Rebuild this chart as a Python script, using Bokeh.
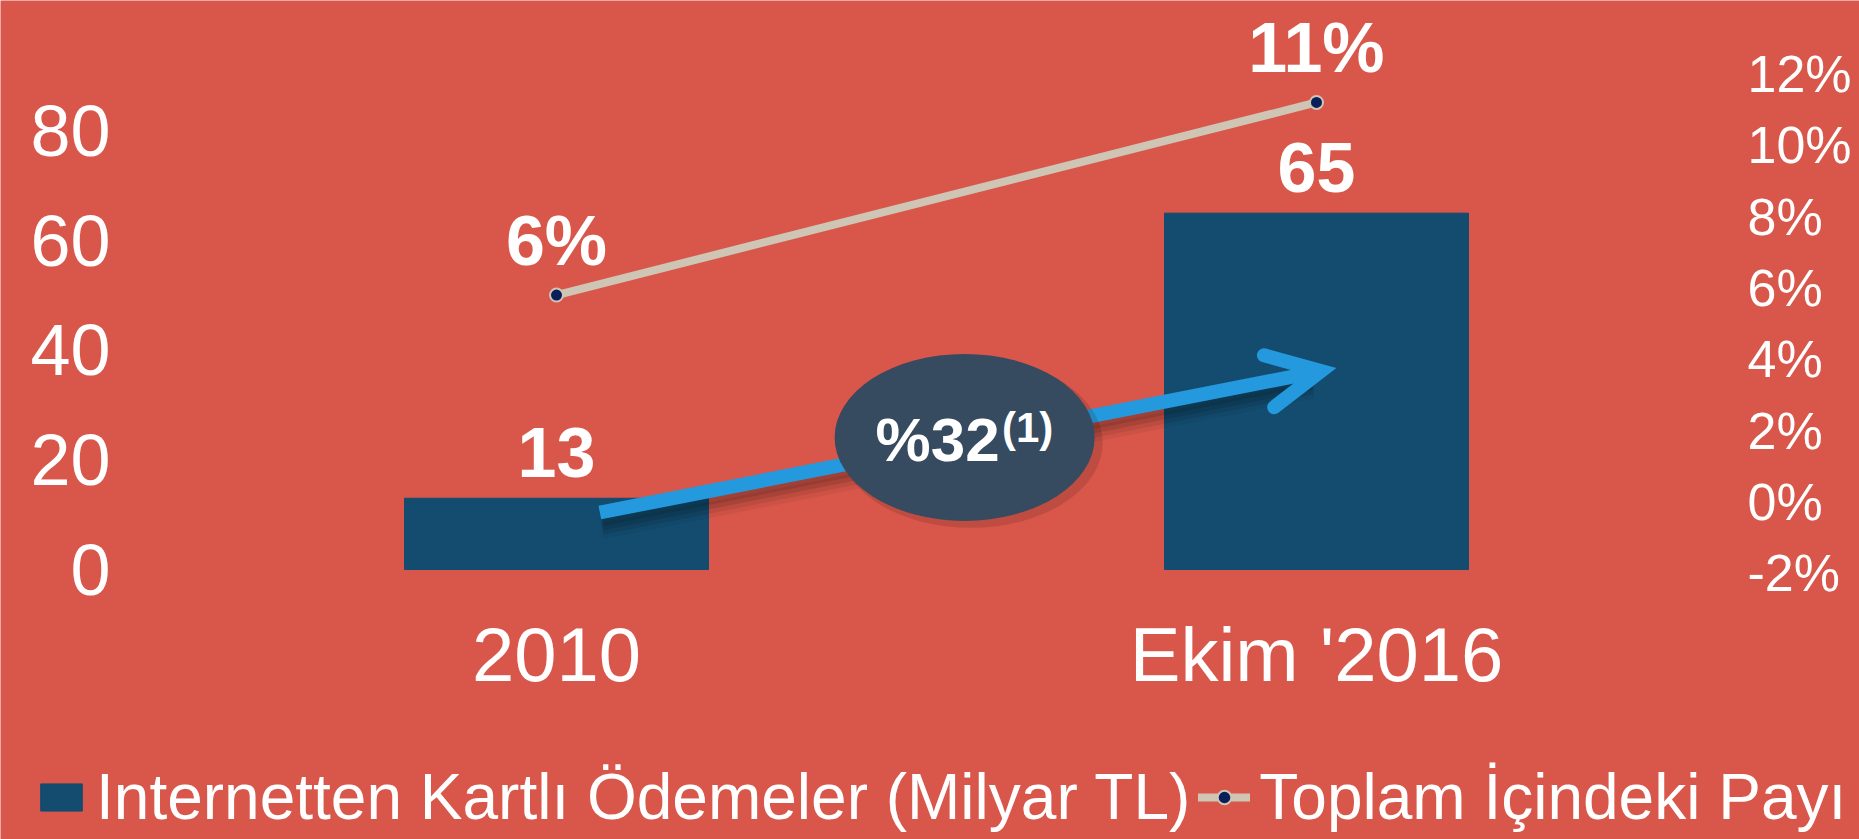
from bokeh.plotting import figure
from bokeh.models import (Range1d, LinearAxis, FixedTicker, Legend, LegendItem,
                          Arrow, OpenHead)
from bokeh.core.properties import value
from bokeh.embed import file_html
from bokeh.resources import INLINE

# ---- data ----
categories = ["2010", "Ekim '2016"]
payments = [13, 65]                 # Internetten Kartlı Ödemeler (Milyar TL)
payment_labels = ["13", "65"]
share = [5.8, 11.2]                 # Toplam İçindeki Payı (%)
share_labels = ["6%", "11%"]
left_ticks = [0, 20, 40, 60, 80]
right_ticks = [-2, 0, 2, 4, 6, 8, 10, 12]
series_names = ["Internetten Kartlı Ödemeler (Milyar TL)", "Toplam İçindeki Payı"]
cagr_text = "%32"
cagr_note = "(1)"

BG = "#D9574A"
BAR = "#134C6F"
LINE = "#CEC5B5"
MARK = "#0A1E5A"
ARROW = "#2599DD"
BUBBLE = "#364A60"
WHITE = "#FFFFFF"
FONT = "Liberation Sans"

xs = list(range(len(categories)))

p = figure(width=1859, height=839, output_backend="svg", toolbar_location=None,
           x_range=Range1d(-0.7316, 1.7145), y_range=Range1d(-49.24, 103.78),
           min_border_left=0, min_border_right=0, min_border_top=0,
           min_border_bottom=0)
p.background_fill_color = BG
p.border_fill_color = BG
p.outline_line_color = None
p.xgrid.visible = False
p.ygrid.visible = False
p.extra_y_ranges = {"pct": Range1d(-9.47, 14.06)}

def style_axis(ax, size):
    ax.axis_line_color = None
    ax.major_tick_line_color = None
    ax.minor_tick_line_color = None
    ax.major_label_text_color = WHITE
    ax.major_label_text_font = FONT
    ax.major_label_text_font_size = size

# category axis (drawn at the bottom of the plotting area)
xa = p.xaxis[0]
xa.ticker = FixedTicker(ticks=xs)
xa.major_label_overrides = {i: c for i, c in enumerate(categories)}
style_axis(xa, "76px")
xa.major_label_standoff = 6
xa.fixed_location = -5.65

# left value axis
ya = p.yaxis[0]
ya.ticker = FixedTicker(ticks=left_ticks)
style_axis(ya, "72px")
ya.major_label_standoff = 14
ya.fixed_location = -0.5605

# right percentage axis
ra = LinearAxis(y_range_name="pct", ticker=FixedTicker(ticks=right_ticks))
ra.major_label_overrides = {t: f"{t}%" for t in right_ticks}
style_axis(ra, "52px")
ra.major_label_standoff = 21
ra.fixed_location = 1.5316
p.add_layout(ra, "right")

# bars
bars = p.vbar(x=xs, top=payments, width=0.4, color=BAR)

# arrow shadow (soft)
for off, a in [(1.0, 0.10), (1.8, 0.10), (2.6, 0.08), (3.4, 0.05)]:
    p.segment(x0=[0.06], y0=[10.4 - off], x1=[0.995], y1=[36.0 - off],
              line_color="black", line_alpha=a, line_width=16)

# growth arrow
arr = Arrow(x_start=0.057, y_start=10.4, x_end=1.006, y_end=36.2,
            line_color=ARROW, line_width=14,
            end=OpenHead(size=53, line_color=ARROW, line_width=14,
                         line_cap="round", line_join="miter"))
p.add_layout(arr)

# share line
ln = p.line(xs, share, y_range_name="pct", line_color=LINE, line_width=8,
            line_cap="round")
sc = p.scatter(xs, share, y_range_name="pct", size=13, fill_color=MARK,
               line_color=LINE, line_width=2)

# bubble
p.ellipse(x=[0.545], y=[23.1], width=[264], height=[170],
          width_units="screen", height_units="screen",
          fill_color="black", fill_alpha=0.12, line_color=None, level="overlay")
p.ellipse(x=[0.537], y=[24.1], width=[260], height=[167],
          width_units="screen", height_units="screen",
          fill_color=BUBBLE, line_color=None, level="overlay")
p.text(x=[0.537], y=[24.1], text=[cagr_text], x_offset=-27, y_offset=2,
       text_align="center", text_baseline="middle", text_color=WHITE,
       text_font=value(FONT), text_font_style="bold", text_font_size="62px",
       level="overlay")
p.text(x=[0.537], y=[24.1], text=[cagr_note], x_offset=63, y_offset=-10,
       text_align="center", text_baseline="middle", text_color=WHITE,
       text_font=value(FONT), text_font_style="bold", text_font_size="42px",
       level="overlay")

# data labels
p.text(x=xs, y=payments, text=payment_labels, y_offset=-46,
       text_align="center", text_baseline="middle", text_color=WHITE,
       text_font=value(FONT), text_font_style="bold", text_font_size="70px")
p.text(x=xs, y=share, y_range_name="pct", text=share_labels, y_offset=-54,
       text_align="center", text_baseline="middle", text_color=WHITE,
       text_font=value(FONT), text_font_style="bold", text_font_size="70px")

# legend
legend = Legend(items=[
    LegendItem(label=series_names[0], renderers=[bars]),
    LegendItem(label=series_names[1], renderers=[ln, sc]),
], orientation="horizontal", location=(35, 5))
legend.label_text_font = FONT
legend.label_text_font_size = "64px"
legend.label_text_color = WHITE
legend.background_fill_alpha = 0
legend.border_line_color = None
legend.padding = 0
legend.margin = 0
legend.spacing = 8
legend.label_standoff = 9
legend.glyph_width = 52
legend.glyph_height = 34
p.add_layout(legend, "center")

open("out.html", "w").write(file_html(p, INLINE))
